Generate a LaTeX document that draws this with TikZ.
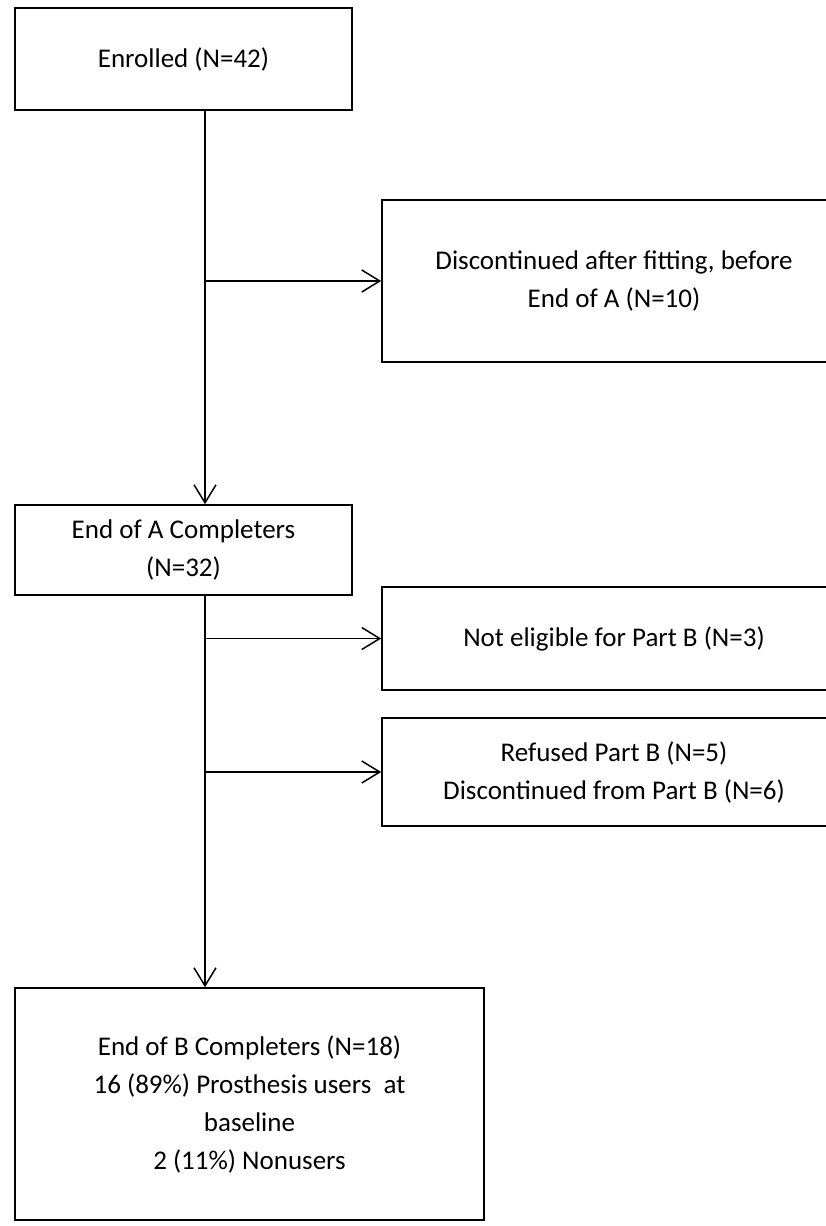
\documentclass[tikz,border=0pt]{standalone}
\usepackage{fontspec}
\setmainfont{Carlito}
\usetikzlibrary{positioning,arrows.meta}

\begin{document}
\begin{tikzpicture}[x=1pt,y=1pt,on grid,
		font=\fontsize{27}{38}\selectfont,
		flowbox/.style={draw,rectangle,line width=1.6pt,align=center,inner sep=0pt},
		flowarrow/.style={-{Straight Barb[length=18pt,width=22pt]},line width=1.5pt}]
		\useasboundingbox (0,0) rectangle (825,-1226);
		\node[flowbox, minimum width=337pt, minimum height=102pt] (enrolled) at (183.5,-59) {Enrolled (N=42)};
		\node[flowbox, minimum width=464pt, minimum height=162pt] (disc) [below right=222pt and 430.5pt of enrolled] {Discontinued after fitting, before\\End of A (N=10)};
		\node[flowbox, minimum width=337pt, minimum height=90pt] (endA) [below=491pt of enrolled] {End of A Completers\\(N=32)};
		\node[flowbox, minimum width=464pt, minimum height=103pt] (noteli) [below=357.5pt of disc] {Not eligible for Part B (N=3)};
		\node[flowbox, minimum width=464pt, minimum height=108pt] (refused) [below=133.5pt of noteli] {Refused Part B (N=5)\\Discontinued from Part B (N=6)};
		\node[flowbox, minimum width=469pt, minimum height=232pt] (endB) [below right=554pt and 66pt of endA] {End of B Completers (N=18)\\16 (89\%) Prosthesis users\ \ at\\baseline\\2 (11\%) Nonusers};
		\coordinate (spine) at (205,0);
		\draw[flowarrow] (enrolled.south -| spine) -- (endA.north -| spine);
		\draw[flowarrow] (endA.south -| spine) -- (endB.north -| spine);
		\draw[flowarrow] (spine |- disc.west) -- (disc.west);
		\draw[flowarrow] (spine |- noteli.west) -- (noteli.west);
		\draw[flowarrow] (spine |- refused.west) -- (refused.west);
	\end{tikzpicture}
\end{document}
